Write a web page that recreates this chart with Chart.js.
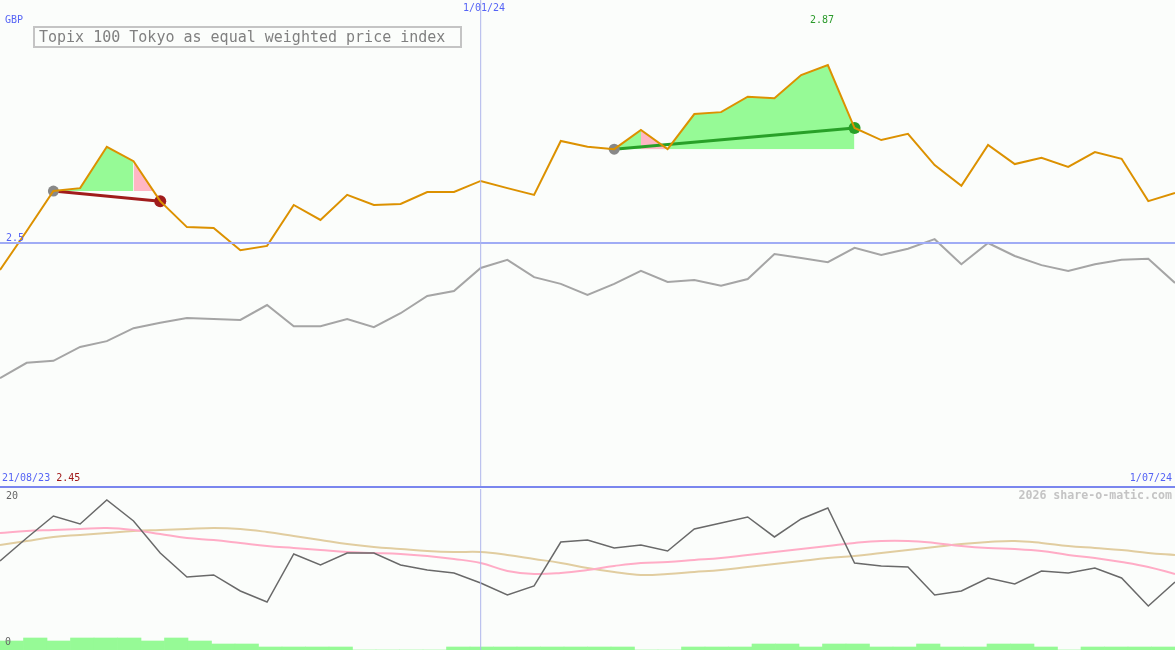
<!DOCTYPE html>
<html>
<head>
<meta charset="utf-8">
<script src="https://cdn.jsdelivr.net/npm/chart.js@4.4.1/dist/chart.umd.min.js"></script>
<style>
  html, body { margin: 0; padding: 0; background: #fbfdfb; }
  #wrap { position: relative; width: 1175px; height: 650px; overflow: hidden; background: #fbfdfb; }
  canvas { position: absolute; left: 0; }
  .lbl { position: absolute; font-family: "DejaVu Sans Mono", "Liberation Mono", monospace; font-size: 10px; line-height: 12px; white-space: nowrap; color: #5563f5; }
  #title { position: absolute; left: 33px; top: 26px; width: 421px; height: 18px; border: 2px solid #c4c4c4;
           font-family: "DejaVu Sans Mono", "Liberation Mono", monospace; font-size: 15px; line-height: 18px;
           color: #808080; padding-left: 4px; box-sizing: content-box; }
  #sep { position: absolute; left: 0; top: 486px; width: 1175px; height: 2px; background: #7a86ee; }
</style>
</head>
<body>
<div id="wrap">
  <canvas id="haut" width="1175" height="487" style="top:0"></canvas>
  <canvas id="bas" width="1175" height="161" style="top:489px"></canvas>
  <div id="sep"></div>
  <div id="title">Topix 100 Tokyo as equal weighted price index</div>
  <div class="lbl" style="left:5px;top:14px">GBP</div>
  <div class="lbl" style="left:463px;top:2px">1/01/24</div>
  <div class="lbl" style="left:810px;top:14px;color:#2a9a2a">2.87</div>
  <div class="lbl" style="left:6px;top:232px">2.5</div>
  <div class="lbl" style="left:2px;top:472px">21/08/23 <span style="color:#a01818">2.45</span></div>
  <div class="lbl" style="right:3px;top:472px">1/07/24</div>
  <div class="lbl" style="right:3px;top:489px;font-size:11.6px;font-weight:bold;color:#c4c4c4">2026 share-o-matic.com</div>
  <div class="lbl" style="left:6px;top:490px;color:#666">20</div>
  <div class="lbl" style="left:5px;top:636px;color:#666">0</div>
</div>
<script>
// semaines (une valeur par semaine)
const semaines = ['28/08/23','4/09/23','11/09/23','18/09/23','25/09/23','2/10/23','9/10/23','16/10/23','23/10/23','30/10/23',
  '6/11/23','13/11/23','20/11/23','27/11/23','4/12/23','11/12/23','18/12/23','25/12/23','1/01/24','8/01/24',
  '15/01/24','22/01/24','29/01/24','5/02/24','12/02/24','19/02/24','26/02/24','4/03/24','11/03/24','18/03/24',
  '25/03/24','1/04/24','8/04/24','15/04/24','22/04/24','29/04/24','6/05/24','13/05/24','20/05/24','27/05/24',
  '3/06/24','10/06/24','17/06/24','24/06/24','1/07/24'];

// indice en GBP
const prix = [2.444,2.525,2.608,2.614,2.700,2.670,2.587,2.533,2.531,2.485,
  2.494,2.579,2.548,2.600,2.579,2.581,2.606,2.606,2.629,2.614,
  2.600,2.712,2.700,2.695,2.735,2.695,2.768,2.772,2.804,2.801,
  2.849,2.870,2.739,2.714,2.727,2.662,2.619,2.704,2.664,2.677,
  2.658,2.689,2.675,2.587,2.604];

// ligne grise (comparaison)
const relatif = [2.219,2.251,2.255,2.284,2.296,2.323,2.334,2.344,2.342,2.340,
  2.371,2.327,2.327,2.342,2.325,2.354,2.390,2.400,2.448,2.465,
  2.429,2.415,2.392,2.415,2.442,2.419,2.423,2.411,2.425,2.477,
  2.469,2.460,2.490,2.475,2.488,2.508,2.456,2.500,2.473,2.454,
  2.442,2.456,2.465,2.467,2.417];

// panneau du bas
const oscillateur = [11.13,14.0,16.75,15.75,18.75,16.13,12.13,9.13,9.38,7.38,
  6.0,12.0,10.63,12.13,12.13,10.63,10.0,9.63,8.38,6.88,
  8.0,13.5,13.75,12.75,13.13,12.38,15.13,15.88,16.63,14.13,
  16.38,17.75,10.88,10.5,10.38,6.88,7.38,9.0,8.25,9.88,
  9.63,10.25,9.0,5.5,8.5];
const moyRapide = [14.63,14.88,15.0,15.13,15.25,15.0,14.5,14.0,13.75,13.38,
  13.0,12.75,12.5,12.25,12.13,12.0,11.75,11.38,10.88,9.88,
  9.5,9.63,10.0,10.5,10.88,11.0,11.25,11.5,11.88,12.25,
  12.63,13.0,13.38,13.63,13.63,13.38,13.0,12.75,12.63,12.38,
  11.88,11.5,11.0,10.38,9.5];
const moyLente = [13.13,13.63,14.13,14.38,14.63,14.88,15.0,15.13,15.25,15.13,
  14.75,14.25,13.75,13.25,12.88,12.63,12.38,12.25,12.25,11.88,
  11.38,10.88,10.25,9.75,9.38,9.5,9.75,10.0,10.38,10.75,
  11.13,11.5,11.75,12.13,12.5,12.88,13.25,13.5,13.63,13.38,
  13.0,12.75,12.5,12.13,11.88];
const barres = [3,4,3,4,4,4,3,4,3,2,2,1,1,1,1,0,0,0,0,1,
  1,1,1,1,1,1,1,0,0,1,1,1,2,2,1,2,2,1,1,2,
  1,1,2,2,1,0,1,1,1,1];

// tendances (indice de début, indice de fin)
const tendanceBaisse = [2, 6];
const tendanceHausse = [23, 32];

const VERT = 'rgb(150,250,150)';
const ROSE = 'rgb(255,182,196)';

function morceau(serie, a, b) {
    return serie.map((v, i) => (i >= a && i <= b) ? v : null);
}

function zone(a, b, base, couleur, ordre) {
    return {
        data: morceau(prix, a, b),
        borderWidth: 0, pointRadius: 0,
        fill: { value: base, above: couleur, below: 'rgba(0,0,0,0)' },
        order: ordre
    };
}

function tendance(t, couleur) {
    const [a, b] = t;
    const d = prix.map((v, i) => (i === a || i === b) ? v : null);
    return {
        data: d, spanGaps: true,
        borderColor: couleur, borderWidth: 3,
        pointRadius: ctx => ctx.dataIndex === a ? 5.5 : (ctx.dataIndex === b ? 6 : 0),
        pointBackgroundColor: ctx => ctx.dataIndex === a ? '#888' : couleur,
        pointBorderWidth: 0,
        order: 2
    };
}

const yHaut = { min: 1.9928, max: 3.0051 };
const idxJanvier = semaines.indexOf('1/01/24');

new Chart(document.getElementById('haut').getContext('2d'), {
    type: 'line',
    data: {
        labels: semaines,
        datasets: [
            { data: [{x: semaines[idxJanvier], y: yHaut.min}, {x: semaines[idxJanvier], y: yHaut.max}],
              borderColor: 'rgb(175,182,235)', borderWidth: 1, pointRadius: 0, order: 0 },
            { data: [{x: semaines[0], y: 2.5}, {x: semaines[semaines.length - 1], y: 2.5}],
              borderColor: 'rgb(160,172,245)', borderWidth: 2, pointRadius: 0, order: 0 },
            { data: prix, borderColor: 'rgb(220,145,0)', borderWidth: 2, pointRadius: 0, order: 1 },
            tendance(tendanceBaisse, 'rgb(160,28,28)'),
            tendance(tendanceHausse, 'rgb(40,160,40)'),
            { data: relatif, borderColor: 'rgb(165,165,165)', borderWidth: 2, pointRadius: 0, order: 3 },
            zone(5, 6, prix[2], ROSE, 4),
            zone(24, 25, prix[23], ROSE, 4),
            zone(2, 5, prix[2], VERT, 5),
            zone(23, 32, prix[23], VERT, 5)
        ]
    },
    options: {
        responsive: false,
        animation: false,
        layout: { padding: 0 },
        plugins: { legend: { display: false }, tooltip: { enabled: false } },
        scales: {
            x: { type: 'category', offset: false, display: false },
            y: { min: yHaut.min, max: yHaut.max, display: false }
        }
    }
});

new Chart(document.getElementById('bas').getContext('2d'), {
    type: 'line',
    data: {
        labels: semaines,
        datasets: [
            { data: [{x: semaines[idxJanvier], y: 0}, {x: semaines[idxJanvier], y: 20.125}],
              borderColor: 'rgb(175,182,235)', borderWidth: 1, pointRadius: 0, order: 0 },
            { data: oscillateur, borderColor: 'rgb(105,105,105)', borderWidth: 1.5, pointRadius: 0, order: 1 },
            { data: moyRapide, borderColor: 'rgb(255,172,198)', borderWidth: 2, pointRadius: 0, tension: 0.4, order: 2 },
            { data: moyLente, borderColor: 'rgb(225,205,160)', borderWidth: 2, pointRadius: 0, tension: 0.4, order: 3 },
            { type: 'bar', data: barres.map((v, i) => ({x: i, y: v})), xAxisID: 'xb', yAxisID: 'yb',
              backgroundColor: VERT, grouped: false, barPercentage: 1, categoryPercentage: 1,
              borderWidth: 0, order: 4 }
        ]
    },
    options: {
        responsive: false,
        animation: false,
        layout: { padding: 0 },
        plugins: { legend: { display: false }, tooltip: { enabled: false } },
        scales: {
            x: { type: 'category', offset: false, display: false },
            xb: { type: 'linear', min: -0.5, max: barres.length - 0.5, offset: false, display: false },
            y: { min: 0, max: 20.125, display: false },
            yb: { min: 0, max: 161 / 3, display: false }
        }
    }
});
</script>
</body>
</html>
